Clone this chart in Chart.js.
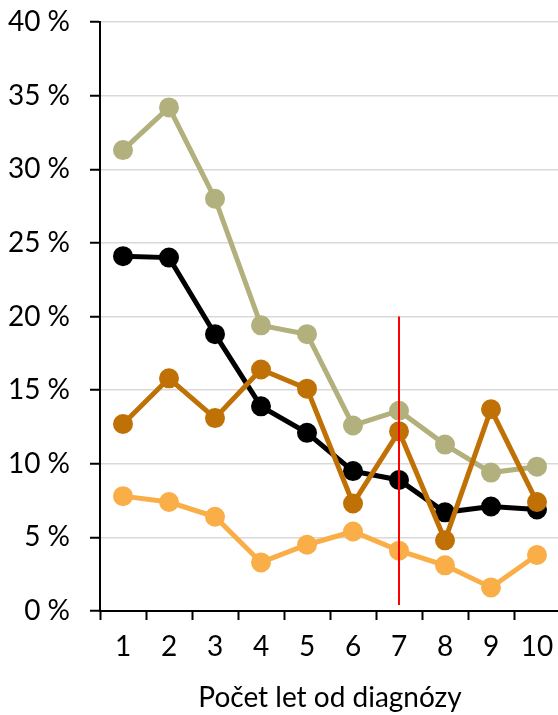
<!DOCTYPE html>
<html>
<head>
<meta charset="utf-8">
<script src="https://cdn.jsdelivr.net/npm/chart.js@4/dist/chart.umd.min.js"></script>
<style>
  html, body { margin: 0; padding: 0; background: #fff; overflow: hidden; }
  canvas { display: block; }
</style>
</head>
<body>
<canvas id="chart" width="560" height="715"></canvas>
<script>
// categories = years since diagnosis
var years = ['1', '2', '3', '4', '5', '6', '7', '8', '9', '10'];

// series values in %
var khaki = [31.3, 34.2, 28.0, 19.4, 18.8, 12.6, 13.6, 11.3, 9.4, 9.8];
var black = [24.1, 24.0, 18.8, 13.9, 12.1, 9.5, 8.9, 6.7, 7.1, 6.9];
var darkOrange = [12.7, 15.8, 13.1, 16.4, 15.1, 7.3, 12.2, 4.8, 13.7, 7.4];
var lightOrange = [7.8, 7.4, 6.4, 3.3, 4.5, 5.4, 4.1, 3.1, 1.6, 3.8];

// red marker line at category 7, spanning these values
var markerIndex = 6;
var markerFrom = 0.4;
var markerTo = 20;

var yMax = 40;
var yStep = 5;
var xTitle = 'Počet let od diagnózy';

var FONT = 'Lato, "Open Sans", sans-serif';

function series(data, color) {
  return {
    data: data,
    borderColor: color,
    backgroundColor: color,
    pointBackgroundColor: color,
    pointBorderColor: color,
    borderWidth: 5,
    pointRadius: 7.5,
    pointHoverRadius: 7.5,
    tension: 0,
    fill: false,
    clip: false
  };
}

var markerLine = {
  id: 'markerLine',
  afterDatasetsDraw: function(chart) {
    var ctx = chart.ctx;
    var x = chart.scales.x.getPixelForValue(markerIndex);
    var y1 = chart.scales.y.getPixelForValue(markerFrom);
    var y2 = chart.scales.y.getPixelForValue(markerTo);
    ctx.save();
    ctx.strokeStyle = '#FF0000';
    ctx.lineWidth = 2;
    ctx.beginPath();
    ctx.moveTo(x, y1);
    ctx.lineTo(x, y2);
    ctx.stroke();
    ctx.restore();
  }
};

var ctx = document.getElementById('chart').getContext('2d');
new Chart(ctx, {
  type: 'line',
  data: {
    labels: years,
    datasets: [
      series(lightOrange, '#F9AE48'),
      series(darkOrange, '#C07106'),
      series(khaki, '#B2B07C'),
      series(black, '#000000')
    ]
  },
  options: {
    responsive: false,
    animation: false,
    layout: { autoPadding: false, padding: { top: 22, right: 0, left: 0, bottom: 0 } },
    plugins: {
      legend: { display: false },
      tooltip: { enabled: false }
    },
    scales: {
      x: {
        offset: true,
        grid: {
          offset: true,
          drawOnChartArea: false,
          drawTicks: true,
          tickLength: 9,
          tickColor: '#000',
          tickWidth: 2
        },
        border: { color: '#000', width: 2 },
        ticks: {
          color: '#000',
          font: { family: FONT, size: 28 },
          padding: 10,
          maxRotation: 0,
          autoSkip: false
        },
        title: {
          display: true,
          text: xTitle,
          color: '#000',
          font: { family: FONT, size: 28 },
          padding: { top: 8, bottom: 0 }
        },
        afterFit: function(scale) {
          scale.height = 104;
          scale.paddingLeft = 0;
          scale.paddingRight = 0;
        }
      },
      y: {
        min: 0,
        max: yMax,
        grid: {
          color: '#D9D9D9',
          lineWidth: 1.5,
          drawTicks: true,
          tickLength: 10,
          tickColor: '#000',
          tickWidth: 2
        },
        border: { color: '#000', width: 2 },
        ticks: {
          stepSize: yStep,
          color: '#000',
          font: { family: FONT, size: 28 },
          padding: 20,
          callback: function(v) { return v + ' %'; }
        },
        afterFit: function(scale) {
          scale.width = 100;
          scale.paddingTop = 0;
          scale.paddingBottom = 0;
        }
      }
    }
  },
  plugins: [markerLine]
});
</script>
</body>
</html>
